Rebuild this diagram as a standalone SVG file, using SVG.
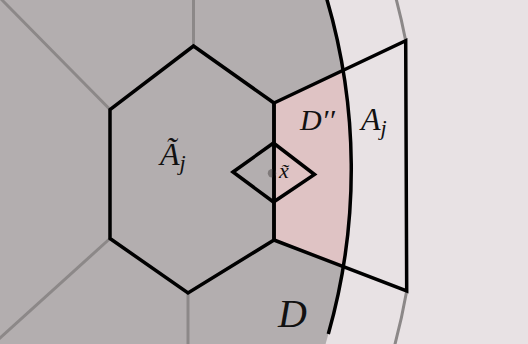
<svg xmlns="http://www.w3.org/2000/svg" width="528" height="344" viewBox="0 0 528 344">
<style>
.blk{fill:none;stroke:#000;stroke-width:3.5;stroke-linejoin:miter}
.gry{fill:none;stroke:#8c8888;stroke-width:3}
.lbl{font-family:"Liberation Serif","Times New Roman",serif;font-style:italic;fill:#111}
</style>
<g id="regions">
<rect x="0" y="0" width="528" height="344" fill="#e8e2e4"/>
<circle id="disk-D" cx="-251.8" cy="169.5" r="603.2" fill="#b3aeaf"/>
<path id="region-Dpp" d="M274 103 L343.3 70.7 A603.2 603.2 0 0 1 343.3 268.3 L274 240 Z" fill="#dfc3c4"/>
</g>
<g id="connectors">
<line class="gry" x1="193.5" y1="46" x2="193.5" y2="-2"/>
<line class="gry" x1="110" y1="109.5" x2="1" y2="-1"/>
<line class="gry" x1="110" y1="238.5" x2="-1" y2="339"/>
<line class="gry" x1="188" y1="293" x2="188" y2="346"/>
<path class="gry" d="M395.1 -5 A670 670 0 0 1 405.7 40.7"/>
<path class="gry" d="M406.7 291 A670 670 0 0 1 393.7 349"/>
</g>
<g id="arc-D">
<path class="blk" d="M325.6 -5 A603.2 603.2 0 0 1 328.3 334"/>
</g>
<g id="hexagon-Aj-tilde">
<polygon class="blk" points="193.5,46 110,109.5 110,238.5 188,293 274,240 274,103"/>
</g>
<g id="cell-Aj">
<polyline class="blk" points="274,103 405.7,40.7 406.7,291 274,240"/>
</g>
<g id="point-x">
<circle cx="272" cy="173.3" r="4.2" fill="#7f7a7a"/>
<line x1="274" y1="103" x2="274" y2="240" stroke="#000" stroke-width="3.5"/>
<polygon class="blk" points="233,172 273.5,143 314.5,174.5 273.5,202" stroke-width="3.2"/>
</g>
<g id="labels">
<text class="lbl" x="160" y="165" font-size="32">Ã<tspan font-size="22" dy="5">j</tspan></text>
<text class="lbl" x="300" y="130" font-size="30">D′′</text>
<text class="lbl" x="361" y="130" font-size="32">A<tspan font-size="22" dy="5">j</tspan></text>
<text class="lbl" x="279" y="178" font-size="22">x̃</text>
<text class="lbl" x="278" y="327" font-size="40">D</text>
</g>
</svg>
